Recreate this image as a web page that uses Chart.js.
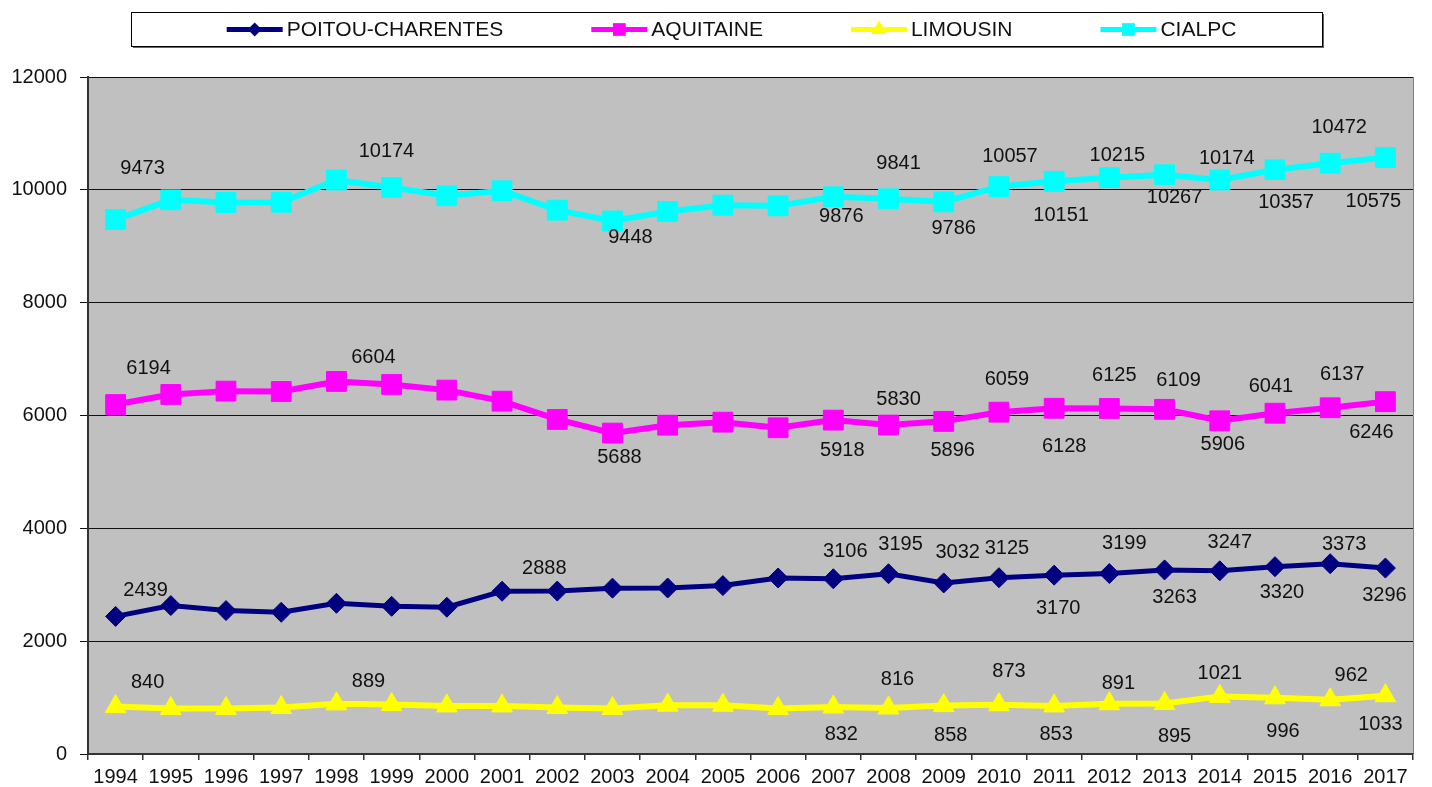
<!DOCTYPE html>
<html>
<head>
<meta charset="utf-8">
<script src="https://cdn.jsdelivr.net/npm/chart.js@4/dist/chart.umd.min.js"></script>
<style>
  html, body { margin: 0; padding: 0; background: #fff; }
  #wrap { width: 1432px; height: 787px; }
</style>
</head>
<body>
<div id="wrap"><canvas id="chart" width="1432" height="787"></canvas></div>
<script>
const years = ['1994','1995','1996','1997','1998','1999','2000','2001','2002','2003','2004','2005',
               '2006','2007','2008','2009','2010','2011','2012','2013','2014','2015','2016','2017'];

const poitou    = [2439, 2631, 2542, 2512, 2671, 2618, 2601, 2885, 2888, 2940, 2942, 2985,
                   3120, 3106, 3195, 3032, 3125, 3170, 3199, 3263, 3247, 3320, 3373, 3296];
const aquitaine = [6194, 6373, 6432, 6425, 6604, 6550, 6450, 6254, 5930, 5688, 5828, 5882,
                   5782, 5918, 5830, 5896, 6059, 6128, 6125, 6109, 5906, 6041, 6137, 6246];
const limousin  = [840, 806, 806, 824, 889, 877, 853, 853, 824, 806, 865, 865,
                   806, 832, 816, 858, 873, 853, 891, 895, 1021, 996, 962, 1033];
const cialpc    = [9473, 9823, 9776, 9780, 10174, 10043, 9894, 9983, 9640, 9448, 9617, 9728,
                   9716, 9876, 9841, 9786, 10057, 10151, 10215, 10267, 10174, 10357, 10472, 10575];

const yTicks = [0, 2000, 4000, 6000, 8000, 10000, 12000];

// which points carry a value label: [index, dx, dy] offset from the point in px
const labelSpots = [
  [[0,30,-26],[8,-13,-23],[13,12,-27],[14,12,-29],[15,14,-30],[16,8,-29],[17,4,33],
   [18,15,-30],[19,10,28],[20,10,-28],[21,7,26],[22,14,-19],[23,-1,27]],
  [[0,33,-36],[4,37,-24],[9,7,24],[13,9,30],[14,10,-26],[15,9,29],[16,8,-33],[17,10,38],
   [18,5,-33],[19,14,-29],[20,3,24],[21,-4,-27],[22,12,-33],[23,-14,31]],
  [[0,32,-24],[4,32,-22],[13,8,27],[14,9,-28],[15,7,30],[16,10,-33],[17,2,29],[18,9,-20],
   [19,10,33],[20,0,-23],[21,8,34],[22,21,-24],[23,-5,29]],
  [[0,27,-51],[4,50,-29],[9,18,17],[13,8,20],[14,10,-35],[15,10,27],[16,11,-30],[17,7,34],
   [18,8,-22],[19,10,23],[20,7,-22],[21,11,33],[22,9,-36],[23,-12,44]]
];

const FONT = '"Liberation Sans", Arial, Helvetica, sans-serif';

function marker(ctx, style, x, y, r, color) {
  ctx.fillStyle = color;
  ctx.beginPath();
  if (style === 'rectRot') {
    ctx.moveTo(x - r, y); ctx.lineTo(x, y - r); ctx.lineTo(x + r, y); ctx.lineTo(x, y + r);
  } else if (style === 'triangle') {
    ctx.moveTo(x, y - r); ctx.lineTo(x + r * 0.866, y + r / 2); ctx.lineTo(x - r * 0.866, y + r / 2);
  } else {
    const s = r * Math.SQRT1_2;
    ctx.rect(x - s, y - s, 2 * s, 2 * s);
  }
  ctx.closePath();
  ctx.fill();
}

const plotBg = {
  id: 'plotBg',
  beforeDraw(chart) {
    const { ctx, chartArea: a } = chart;
    ctx.save();
    ctx.fillStyle = '#C0C0C0';
    ctx.fillRect(a.left, a.top, a.right - a.left, a.bottom - a.top);
    ctx.strokeStyle = '#808080';
    ctx.lineWidth = 1;
    ctx.beginPath();
    ctx.moveTo(a.right + 0.5, a.top);
    ctx.lineTo(a.right + 0.5, a.bottom);
    ctx.stroke();
    ctx.restore();
  }
};

const valueLabels = {
  id: 'valueLabels',
  afterDatasetsDraw(chart) {
    const ctx = chart.ctx;
    ctx.save();
    ctx.font = '20px ' + FONT;
    ctx.fillStyle = '#111';
    ctx.textAlign = 'center';
    ctx.textBaseline = 'middle';
    chart.data.datasets.forEach((ds, di) => {
      const pts = chart.getDatasetMeta(di).data;
      labelSpots[di].forEach(([i, dx, dy]) => {
        ctx.fillText(String(ds.data[i]), pts[i].x + dx, pts[i].y + dy);
      });
    });
    ctx.restore();
  }
};

const legendBox = {
  id: 'legendBox',
  afterDraw(chart) {
    const ctx = chart.ctx;
    const x0 = 131, y0 = 12, x1 = 1322, y1 = 46;
    ctx.save();
    ctx.fillStyle = '#666';
    ctx.fillRect(x0 + 2, y0 + 2, x1 - x0, y1 - y0);
    ctx.fillStyle = '#fff';
    ctx.fillRect(x0, y0, x1 - x0, y1 - y0);
    ctx.strokeStyle = '#000';
    ctx.lineWidth = 1;
    ctx.strokeRect(x0 + 0.5, y0 + 0.5, x1 - x0, y1 - y0);

    ctx.font = '21px ' + FONT;
    ctx.textBaseline = 'middle';
    ctx.textAlign = 'left';
    const lineLen = 56, gap = 88;
    const items = chart.data.datasets.map(ds => ({ ds, w: lineLen + 4 + ctx.measureText(ds.label).width }));
    const total = items.reduce((s, it) => s + it.w, 0) + gap * (items.length - 1);
    let x = (x0 + x1) / 2 + 5 - total / 2;
    const cy = 29.5;
    items.forEach(({ ds, w }) => {
      ctx.strokeStyle = ds.borderColor;
      ctx.lineWidth = 5;
      ctx.beginPath();
      ctx.moveTo(x, cy);
      ctx.lineTo(x + lineLen, cy);
      ctx.stroke();
      const r = ds.pointStyle === 'rectRot' ? 7 : 9;
      marker(ctx, ds.pointStyle, x + lineLen / 2, cy, r, ds.borderColor);
      ctx.fillStyle = '#111';
      ctx.fillText(ds.label, x + lineLen + 4, cy + 1);
      x += w + gap;
    });
    ctx.restore();
  }
};

function series(label, data, color, style, radius, width) {
  return {
    label, data,
    borderColor: color, backgroundColor: color,
    borderWidth: width,
    pointStyle: style, pointRadius: radius,
    pointBackgroundColor: color, pointBorderColor: color, pointBorderWidth: 1,
    tension: 0, fill: false
  };
}

new Chart(document.getElementById('chart').getContext('2d'), {
  type: 'line',
  data: {
    labels: years,
    datasets: [
      series('POITOU-CHARENTES', poitou, '#000080', 'rectRot', 10, 5),
      series('AQUITAINE', aquitaine, '#FF00FF', 'rect', 14, 6),
      series('LIMOUSIN', limousin, '#FFFF00', 'triangle', 12, 6),
      series('CIALPC', cialpc, '#00FFFF', 'rect', 14, 6)
    ]
  },
  options: {
    responsive: false,
    animation: false,
    layout: { padding: { top: 77, left: 11, right: 19, bottom: 0 } },
    plugins: {
      legend: { display: false },
      tooltip: { enabled: false }
    },
    scales: {
      x: {
        offset: true,
        afterFit: axis => { axis.height = 33; },
        grid: { offset: true, drawOnChartArea: false, tickLength: 6, color: '#333', lineWidth: 1.5 },
        border: { color: '#333', width: 2 },
        ticks: { font: { family: FONT, size: 20 }, color: '#111', padding: 5, maxRotation: 0, autoSkip: false }
      },
      y: {
        min: 0, max: 12000,
        afterFit: axis => { axis.width = 77; },
        afterBuildTicks: axis => { axis.ticks = yTicks.map(v => ({ value: v })); },
        grid: { color: '#111', lineWidth: 1, tickLength: 8 },
        border: { color: '#333', width: 2 },
        ticks: { font: { family: FONT, size: 20 }, color: '#111', padding: 13, callback: v => String(v) }
      }
    }
  },
  plugins: [plotBg, valueLabels, legendBox]
});
</script>
</body>
</html>
